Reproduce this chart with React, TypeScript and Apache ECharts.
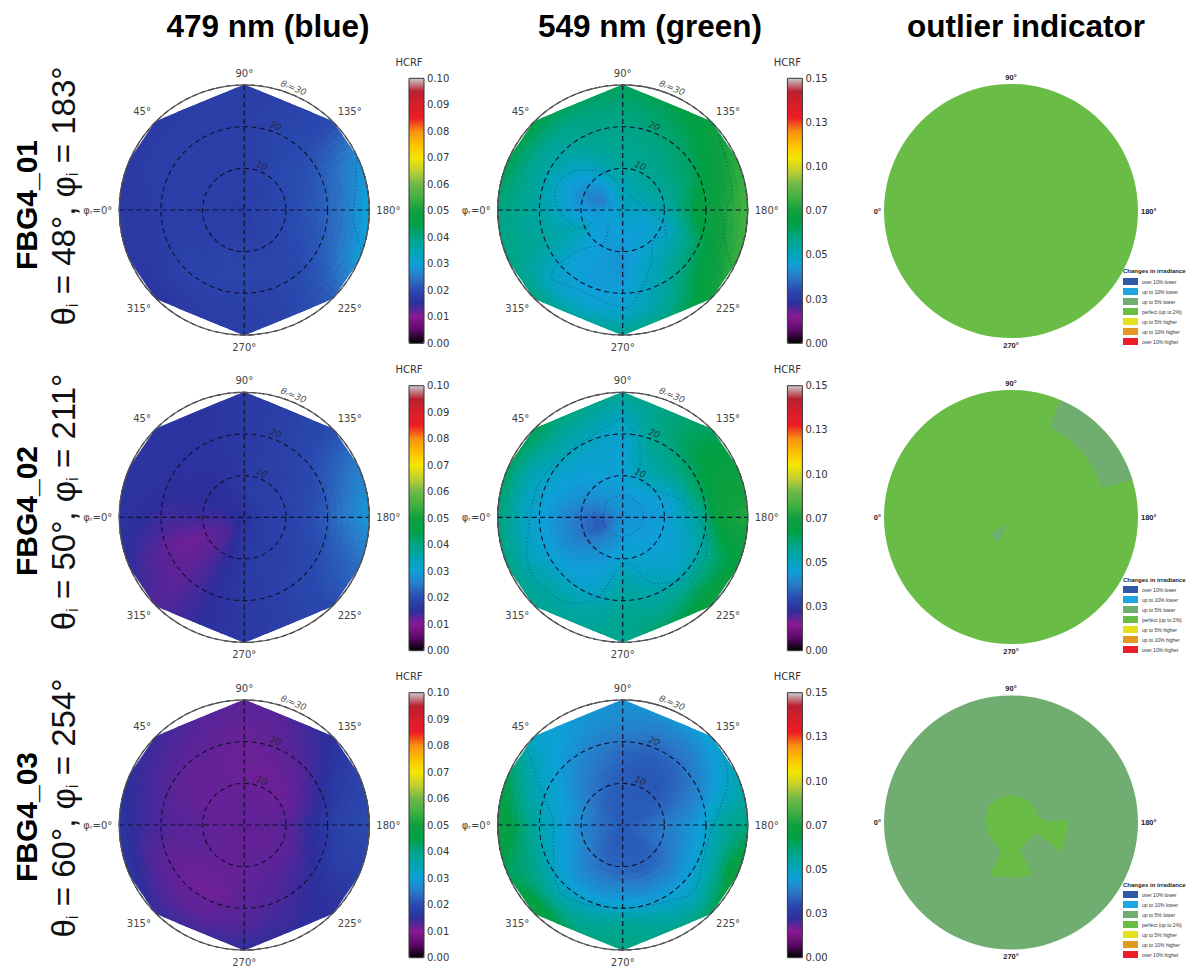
import React, { useEffect, useRef } from "react";
import * as echarts from "echarts";

// ---- axis nodes of the HCRF grids
const azimuths = [0, 22.5, 45, 67.5, 90, 112.5, 135, 157.5, 180, 202.5, 225, 247.5, 270, 292.5, 315, 337.5];
const zeniths = [0, 6, 12, 18, 24, 30];

// ---- HCRF, in thousandths (rows: zeniths, columns: azimuths)
const blue01 = [
  [18, 18, 18, 18, 18, 18, 18, 18, 18, 18, 18, 18, 18, 18, 18, 18],
  [18, 18, 18, 18, 18, 18, 18, 19, 19, 19, 19, 18, 18, 18, 18, 18],
  [18, 18, 18, 18, 18, 19, 20, 20, 20, 20, 19, 19, 19, 19, 18, 18],
  [18, 18, 18, 18, 18, 19, 20, 21, 22, 21, 20, 19, 19, 19, 19, 18],
  [17, 18, 18, 18, 18, 19, 20, 24, 25, 24, 21, 19, 18, 18, 18, 17],
  [17, 17, 17, 18, 18, 18, 20, 28, 31, 30, 22, 19, 18, 17, 16, 17],
];
const green01 = [
  [49, 49, 49, 49, 49, 49, 49, 49, 49, 49, 49, 49, 49, 49, 49, 49],
  [43, 37, 41, 48, 52, 53, 54, 53, 50, 47, 45, 45, 45, 44, 44, 44],
  [44, 42, 46, 54, 57, 58, 59, 58, 56, 49, 49, 48, 42, 44, 46, 52],
  [53, 50, 54, 58, 59, 60, 62, 64, 70, 62, 58, 51, 44, 44, 46, 55],
  [58, 58, 58, 60, 61, 63, 66, 72, 76, 73, 66, 55, 47, 46, 48, 57],
  [60, 66, 68, 66, 65, 68, 72, 80, 84, 82, 74, 62, 58, 58, 60, 60],
];
const blue02 = [
  [16, 16, 16, 16, 16, 16, 16, 16, 16, 16, 16, 16, 16, 16, 16, 16],
  [14, 15, 15, 16, 17, 18, 18, 18, 18, 18, 18, 17, 17, 15, 13, 13],
  [14, 15, 15, 16, 17, 18, 18, 19, 19, 19, 18, 18, 17, 15, 12.5, 11.5],
  [14, 15, 16, 16, 17, 18, 19, 20, 21, 20, 19, 18, 17, 15, 12.5, 11.5],
  [15, 16, 16, 16, 17, 18, 20, 23, 25, 22, 20, 18, 17, 15, 12.5, 13],
  [16, 16, 16, 16, 17, 18, 20, 26, 29, 24, 20, 18, 17, 15, 13, 15],
];
const green02 = [
  [42, 42, 42, 42, 42, 42, 42, 42, 42, 42, 42, 42, 42, 42, 42, 42],
  [33, 38, 42, 43, 44, 44, 44, 44, 43, 44, 44, 46, 44, 42, 38, 32],
  [38, 42, 44, 46, 46, 52, 52, 46, 46, 46, 46, 47, 50, 44, 42, 38],
  [44, 46, 48, 48, 46, 57, 60, 62, 56, 50, 48, 52, 56, 47, 45, 44],
  [50, 51, 56, 54, 50, 60, 66, 72, 74, 62, 62, 58, 58, 54, 54, 50],
  [62, 64, 66, 62, 58, 60, 64, 72, 78, 70, 74, 66, 58, 58, 58, 60],
];
const blue03 = [
  [12, 12, 12, 12, 12, 12, 12, 12, 12, 12, 12, 12, 12, 12, 12, 12],
  [12, 12, 12, 12, 12, 12, 12, 12, 12.5, 12, 12, 12, 12, 12, 12, 12],
  [12.5, 12, 12, 12, 11.5, 11.5, 11.5, 12, 13, 12.5, 12.5, 12.5, 12, 12, 12, 12.5],
  [13, 12.5, 12, 12, 11.5, 12, 12.5, 14, 16, 15, 14, 13, 12.5, 11.5, 11.5, 12],
  [14, 13.5, 13, 12.5, 12, 12.5, 14, 17, 19, 18, 15, 14, 13, 12.5, 12.5, 13],
  [16, 15, 14, 13, 12.5, 13, 15.5, 19, 20, 18, 15.5, 15, 15, 14.5, 14.5, 16],
];
const green03 = [
  [33, 33, 33, 33, 33, 33, 33, 33, 33, 33, 33, 33, 33, 33, 33, 33],
  [36, 36, 34, 33, 33, 33, 33, 33, 35, 35, 33, 33, 33, 33, 34, 36],
  [42, 42, 38, 35, 33, 32, 32, 35, 39, 38, 35, 34, 35, 36, 38, 42],
  [50, 47, 42, 38, 35, 33, 34, 38, 44, 44, 42, 42, 44, 43, 44, 48],
  [62, 53, 46, 42, 40, 38, 39, 44, 56, 56, 50, 54, 58, 56, 56, 60],
  [75, 66, 48, 44, 42, 44, 46, 52, 60, 76, 64, 60, 60, 62, 76, 64],
];

// ---- dotted contours, [zenith, azimuth]
const contourBlue01 = [[[29.7, 155], [26.9, 171], [26.2, 183.5], [29.8, 199]]];
const contourGreen01 = [
  [[6, 84], [10.3, 63], [14, 43], [16.7, 25.6], [16.6, 11], [14.3, 353.6], [11.1, 336.8], [6.7, 339]],
  [[5, 90], [4, 150], [10.3, 198], [12.1, 210], [10.3, 224], [13.9, 240], [18.3, 254], [23.6, 268], [21.8, 298], [23.4, 317], [21.2, 320], [14, 317], [9.2, 300], [4.7, 317]],
  [[29.2, 142], [27, 163], [26.6, 170], [24.6, 182], [24.6, 191], [29.7, 208]],
];
const contourGreen02 = [
  [[23.8, 89], [17.9, 103.5], [10.2, 114], [10.9, 145.5], [15, 165.5], [20.8, 194], [22, 204], [21.2, 223.6], [17.5, 245], [11, 265], [20.4, 288], [23.8, 299.8], [25.8, 323], [24.7, 338.6], [21.8, 18.6], [20.7, 43.3], [23.8, 89]],
  [[5.4, 44], [5.4, 88], [5.1, 164], [4.9, 212], [4.7, 278], [4.8, 347], [5.4, 44]],
];
const contourGreen03 = [
  [[29.5, 38.6], [20.4, 20.7], [16.6, 0], [18.1, 336.6], [22, 313], [20.7, 292], [19.9, 267], [21.2, 240], [23.3, 223], [20.7, 193], [21.8, 180], [27.7, 156], [30, 142]],
];

// ---- labels
const columnTitles = ["479 nm (blue)", "549 nm (green)", "outlier indicator"];
const rowIds = ["FBG4_01", "FBG4_02", "FBG4_03"];
const rowAngles = [["48", "183"], ["50", "211"], ["60", "254"]];
const zenithLabels: [number, number, string][] = [[11.4, 111.5, "10"], [21.5, 110.5, "20"], [31.6, 112, "θᵣ=30"]];
const outlierClasses = ["over 10% lower", "up to 10% lower", "up to 5% lower", "perfect (up to 2%)", "up to 5% higher", "up to 10% higher", "over 10% higher"];
const outlierColors = ["#2f58a8", "#1ea6e2", "#6fae70", "#69bc45", "#e6e01e", "#e3991f", "#ec1c28"];

// ---- outlier regions: class index, boundary [zenith, azimuth]; null boundary = whole disc
const outlierRow1 = [{ cls: 3, pts: null }];
const outlierRow2 = [
  { cls: 3, pts: null },
  { cls: 2, pts: [[30, 112.5], [30, 119], [30, 125], [30, 131], [30, 138], [30, 144], [30, 150], [30, 156], [30, 163], [22.5, 162.5], [22.6, 155], [22.6, 147], [22.7, 138], [22.9, 130], [23, 122], [23.2, 113.5]] },
  { cls: 2, pts: [[6.3, 322], [2.1, 298], [6.9, 296]] },
];
const outlierRow3 = [
  { cls: 2, pts: null },
  {
    cls: 3,
    pts: [[5.9, 6], [6.6, 35], [6.5, 62.5], [6.4, 91.4], [6.6, 120], [6.6, 149], [6.4, 167], [8.4, 178], [13.6, 177], [13.6, 185.6], [13.9, 210.6], [9.4, 206], [6.2, 204], [6.8, 252], [8.5, 250], [13.3, 248], [13.2, 264], [13.5, 290], [12.7, 292], [9.3, 289], [6.6, 293], [6.1, 318], [6, 343]],
  },
];

const palette = ["#000000", "#5c0a68", "#8a1a95", "#2d2f9c", "#2a4ab0", "#2a7ac8", "#0fa0d8", "#00a5b0", "#00a585", "#00a045", "#10a040", "#40b040", "#70b848", "#c0d030", "#f5e600", "#fcc000", "#f89010", "#ee1c25", "#d81e28", "#b82030", "#cccccc"];

const hullChords = [[23.5, 45], [45, 90], [90, 135], [135, 156.5], [203.5, 225], [225, 270], [270, 315], [315, 336.5]];
function hull(phi: number) {
  for (const [a, b] of hullChords) {
    if (phi >= a && phi <= b) {
      const half = ((b - a) / 2) * (Math.PI / 180);
      const off = ((phi - (a + b) / 2) * Math.PI) / 180;
      return (30 * Math.cos(half)) / Math.cos(off);
    }
  }
  return 30;
}

const SUB_R = 4;
const SUB_A = 6;

function heatRenderer(grid: number[][], maxValue: number) {
  const nA = azimuths.length;
  return (params: any, api: any) => {
    const i = Math.floor(params.dataIndex / nA);
    const j = params.dataIndex % nA;
    if (i >= zeniths.length - 1) return null;
    const j2 = (j + 1) % nA;
    const rA = zeniths[i], rB = zeniths[i + 1];
    const pA = azimuths[j], pB = j2 === 0 ? 360 : azimuths[j2];
    const v00 = grid[i][j], v01 = grid[i][j2], v10 = grid[i + 1][j], v11 = grid[i + 1][j2];
    const pt = (u: number, w: number) => {
      const phi = pA + (pB - pA) * w;
      const r = rA + (rB - rA) * u;
      return api.coord([Math.min(r, hull(phi)), phi]);
    };
    const children: any[] = [];
    for (let a = 0; a < SUB_R; a++) {
      for (let b = 0; b < SUB_A; b++) {
        const u = (a + 0.5) / SUB_R, w = (b + 0.5) / SUB_A;
        const v = (v00 * (1 - u) * (1 - w) + v01 * (1 - u) * w + v10 * u * (1 - w) + v11 * u * w) / 1000;
        const fill = echarts.color.lerp(Math.min(1, v / maxValue), palette);
        children.push({
          type: "polygon",
          silent: true,
          shape: { points: [pt(a / SUB_R, b / SUB_A), pt((a + 1) / SUB_R, b / SUB_A), pt((a + 1) / SUB_R, (b + 1) / SUB_A), pt(a / SUB_R, (b + 1) / SUB_A)] },
          style: { fill, stroke: fill, lineWidth: 1.1 },
        });
      }
    }
    return { type: "group", children };
  };
}

const blueX = 244.3, greenX = 622.7, outX = 1011;
const rowY = [210, 517.3, 825];
const outY = [211, 517, 822.5];
const barTop = [78.3, 385.7, 692.7];
const legendTop = [278, 586, 891];
const legendTitleY = [272, 581, 886];
const rowIdY = [205, 511, 817];
const rowTextY = [196, 502, 808];

function buildOption() {
  const polar: any[] = [], angleAxis: any[] = [], radiusAxis: any[] = [], series: any[] = [];
  const grid: any[] = [], xAxis: any[] = [], yAxis: any[] = [], visualMap: any[] = [], legend: any[] = [], graphic: any[] = [];
  const panels = [
    { x: blueX, row: 0, data: blue01, max: 0.1, contours: contourBlue01 },
    { x: greenX, row: 0, data: green01, max: 0.15, contours: contourGreen01 },
    { x: blueX, row: 1, data: blue02, max: 0.1, contours: [] },
    { x: greenX, row: 1, data: green02, max: 0.15, contours: contourGreen02 },
    { x: blueX, row: 2, data: blue03, max: 0.1, contours: [] },
    { x: greenX, row: 2, data: green03, max: 0.15, contours: contourGreen03 },
  ];

  // heat series come first so their indices equal the panel indices
  panels.forEach((p, k) => {
    polar.push({ center: [p.x, rowY[p.row]], radius: 125 });
    angleAxis.push({
      polarIndex: k, type: "value", min: 0, max: 360, interval: 45, startAngle: 180, clockwise: true, z: 11,
      axisLine: { show: true, lineStyle: { color: "#555", width: 1.3 } },
      axisTick: { show: false },
      splitLine: { show: false },
      axisLabel: { show: true, margin: 7, fontFamily: "DejaVu Sans", fontSize: 10, color: "#444", formatter: (v: number) => (v === 0 ? "φᵣ=0°" : `${v}°`) },
    });
    radiusAxis.push({
      polarIndex: k, type: "value", min: 0, max: 30, interval: 10, z: 10,
      axisLine: { show: false }, axisTick: { show: false }, axisLabel: { show: false },
      splitLine: { show: true, lineStyle: { color: "#101030", width: 1.1, type: [5, 3.5] } },
    });
    const flat: any[] = [];
    zeniths.forEach((r, i) => azimuths.forEach((phi, j) => flat.push([r, phi, p.data[i][j] / 1000])));
    series.push({
      type: "custom", coordinateSystem: "polar", polarIndex: k, silent: true, z: 2, clip: false,
      renderItem: heatRenderer(p.data, p.max), data: flat, encode: { radius: 0, angle: 1 },
    });
    const barX = p.x + 164.7;
    visualMap.push({
      type: "continuous", seriesIndex: k, dimension: 2, min: 0, max: p.max, calculable: false, realtime: false,
      left: barX, top: barTop[p.row], itemWidth: 15, itemHeight: 265, padding: 0, text: null, showLabel: false,
      borderColor: "#222", borderWidth: 0, inRange: { color: palette }, hoverLink: false,
    });
    grid.push({ left: barX, top: barTop[p.row], width: 15, height: 265, show: true, backgroundColor: "transparent", borderColor: "#333", borderWidth: 1, z: 5 });
    xAxis.push({ gridIndex: k, type: "value", show: false, min: 0, max: 1 });
    yAxis.push({
      gridIndex: k, type: "value", position: "right", min: 0, max: p.max, interval: p.max === 0.1 ? 0.01 : 0.025,
      name: "HCRF", nameLocation: "end", nameGap: 11, nameTextStyle: { fontFamily: "DejaVu Sans", fontSize: 10, color: "#333" },
      axisLine: { show: false }, axisTick: { show: false }, splitLine: { show: false },
      axisLabel: { margin: 3, fontFamily: "DejaVu Sans", fontSize: 10, color: "#333", showMinLabel: true, showMaxLabel: true, formatter: (v: number) => v.toFixed(2) },
    });
  });

  panels.forEach((p, k) => {
    p.contours.forEach((c: number[][]) => {
      series.push({
        type: "line", coordinateSystem: "polar", polarIndex: k, data: c, symbol: "none", silent: true, z: 3, clip: false, smooth: 0.3,
        lineStyle: { color: "#12307a", opacity: 0.75, width: 0.9, type: [1, 2.5] },
      });
    });
    [[0, 180], [90, 270]].forEach(([a, b]) => {
      series.push({
        type: "line", coordinateSystem: "polar", polarIndex: k, data: [[30, a], [0, a], [30, b]], symbol: "none", silent: true, z: 4, clip: false,
        lineStyle: { color: "#101030", width: 1.2, type: [5, 3.5] },
      });
    });
    series.push({
      type: "scatter", coordinateSystem: "polar", polarIndex: k, symbolSize: 0, silent: true, z: 5, clip: false,
      data: zenithLabels,
      label: {
        show: true, position: "inside", rotate: -22, fontFamily: "DejaVu Sans", fontStyle: "italic",
        fontSize: 9, color: "#222", formatter: (q: any) => q.data[2],
      },
    });
  });

  // outlier panels
  [outlierRow1, outlierRow2, outlierRow3].forEach((regions: any[], row) => {
    const k = polar.length;
    polar.push({ center: [outX, outY[row]], radius: 127 });
    angleAxis.push({
      polarIndex: k, type: "value", min: 0, max: 360, interval: 90, startAngle: 180, clockwise: true,
      axisLine: { show: false }, axisTick: { show: false }, splitLine: { show: false },
      axisLabel: { show: true, margin: 3, fontFamily: "Liberation Sans", fontWeight: "bold", fontSize: 7.5, color: "#222", formatter: (v: number) => `${v}°` },
    });
    radiusAxis.push({ polarIndex: k, type: "value", min: 0, max: 30, show: false });
    outlierClasses.forEach((name, cls) => {
      const mine = regions.filter((g) => g.cls === cls);
      series.push({
        name, type: "custom", coordinateSystem: "polar", polarIndex: k, silent: true, clip: false,
        z: mine.some((g) => g.pts === null) ? 2 : 3,
        itemStyle: { color: outlierColors[cls] },
        data: mine.map((g, i) => [30, 0, i]),
        encode: { radius: 0, angle: 1 },
        renderItem: (params: any, api: any) => {
          const g = mine[params.dataIndex];
          const fill = outlierColors[cls];
          if (g.pts === null) {
            return { type: "circle", silent: true, shape: { cx: params.coordSys.cx, cy: params.coordSys.cy, r: params.coordSys.r }, style: { fill } };
          }
          return { type: "polygon", silent: true, shape: { points: g.pts.map((q: number[]) => api.coord(q)) }, style: { fill } };
        },
      });
    });
    legend.push({
      data: outlierClasses, orient: "vertical", left: 1123, top: legendTop[row], padding: 0, itemWidth: 15, itemHeight: 7, itemGap: 3,
      icon: "rect", selectedMode: false, align: "left",
      textStyle: { fontFamily: "Liberation Sans", fontSize: 5, color: "#333", padding: [0, 0, 0, -1] },
    });
    graphic.push({ type: "text", left: 1123, top: legendTitleY[row] - 4, style: { text: "Changes in irradiance", font: "bold 6px 'Liberation Sans'", fill: "#222" } });
  });

  rowIds.forEach((id, r) => {
    graphic.push({
      type: "text", x: 26, y: rowIdY[r], rotation: Math.PI / 2, silent: true,
      style: { text: id, font: "bold 30px 'Liberation Sans'", fill: "#000", align: "center", verticalAlign: "middle" },
    });
    const [th, ph] = rowAngles[r];
    graphic.push({
      type: "text", x: 63, y: rowTextY[r], rotation: Math.PI / 2, silent: true,
      style: {
        text: `{a|θ}{s|i}{a| = ${th}°, φ}{s|i}{a| = ${ph}°}`, align: "center", verticalAlign: "middle",
        rich: {
          a: { font: "33px 'Liberation Sans'", fill: "#111", lineHeight: 36 },
          s: { font: "17px 'Liberation Sans'", fill: "#111", verticalAlign: "bottom", lineHeight: 36, padding: [12, 0, 0, 0] },
        },
      },
    });
  });

  const titleX = [268, 650, 1026];
  const title = columnTitles.map((text, i) => ({
    text, left: titleX[i], top: 10, textAlign: "center", padding: 0,
    textStyle: { fontFamily: "Liberation Sans", fontWeight: "bold", fontSize: 31.5, color: "#000" },
  }));

  return { animation: false, backgroundColor: "#fff", title, polar, angleAxis, radiusAxis, grid, xAxis, yAxis, visualMap, legend, graphic, series };
}

export default function App() {
  const ref = useRef<HTMLDivElement>(null);
  useEffect(() => {
    const chart = echarts.init(ref.current!, undefined, { renderer: "svg" });
    chart.setOption(buildOption() as any);
    return () => chart.dispose();
  }, []);
  return <div ref={ref} style={{ position: "fixed", left: 0, top: 0, width: 1199, height: 969 }} />;
}
